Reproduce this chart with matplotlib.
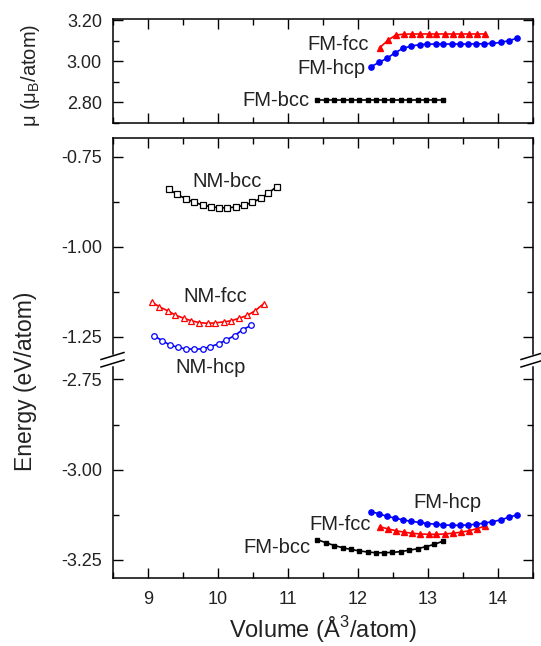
import matplotlib
matplotlib.use('Agg')
import matplotlib.pyplot as plt
from matplotlib.lines import Line2D

plt.rcParams['font.family'] = ['Liberation Sans', 'DejaVu Sans']
plt.rcParams['axes.unicode_minus'] = False
plt.rcParams['mathtext.fontset'] = 'custom'
plt.rcParams['mathtext.rm'] = 'Liberation Sans'

# ---- data ----
# ferromagnetic phases
v_fm_bcc = [11.42, 11.54, 11.66, 11.78, 11.90, 12.02, 12.14, 12.25, 12.37, 12.49,
            12.61, 12.73, 12.85, 12.97, 13.09, 13.21]
e_fm_bcc = [-3.194, -3.202, -3.210, -3.216, -3.221, -3.225, -3.228, -3.230, -3.230,
            -3.229, -3.227, -3.223, -3.219, -3.213, -3.207, -3.198]
m_fm_bcc = [2.811] * 16

v_fm_fcc = [12.31, 12.43, 12.54, 12.66, 12.77, 12.89, 13.01, 13.12, 13.24, 13.35,
            13.47, 13.59, 13.70, 13.82]
e_fm_fcc = [-3.158, -3.164, -3.169, -3.173, -3.176, -3.178, -3.179, -3.179, -3.178,
            -3.176, -3.173, -3.169, -3.163, -3.156]
m_fm_fcc = [3.065, 3.102, 3.127, 3.131, 3.132, 3.132, 3.132, 3.132, 3.132, 3.132,
            3.132, 3.132, 3.132, 3.132]

v_fm_hcp = [12.18, 12.30, 12.41, 12.53, 12.64, 12.76, 12.88, 12.99, 13.11, 13.22,
            13.34, 13.46, 13.57, 13.69, 13.80, 13.92, 14.04, 14.15, 14.27]
e_fm_hcp = [-3.116, -3.122, -3.129, -3.134, -3.139, -3.143, -3.146, -3.149, -3.151,
            -3.153, -3.154, -3.154, -3.153, -3.151, -3.148, -3.144, -3.139, -3.132, -3.125]
m_fm_hcp = [2.972, 2.993, 3.013, 3.040, 3.062, 3.073, 3.080, 3.082, 3.083, 3.083,
            3.083, 3.083, 3.083, 3.084, 3.084, 3.086, 3.091, 3.099, 3.111]

# non-magnetic phases
v_nm_bcc = [9.30, 9.42, 9.54, 9.66, 9.78, 9.90, 10.02, 10.13, 10.25, 10.37,
            10.49, 10.61, 10.72, 10.84]
e_nm_bcc = [-0.841, -0.855, -0.867, -0.877, -0.884, -0.889, -0.892, -0.892, -0.890,
            -0.885, -0.877, -0.866, -0.851, -0.833]

v_nm_fcc = [9.05, 9.16, 9.28, 9.39, 9.51, 9.62, 9.73, 9.85, 9.96, 10.08, 10.19,
            10.30, 10.42, 10.53, 10.65]
e_nm_fcc = [-1.153, -1.167, -1.178, -1.190, -1.199, -1.206, -1.211, -1.213, -1.212,
            -1.209, -1.206, -1.199, -1.191, -1.178, -1.159]

v_nm_hcp = [9.08, 9.20, 9.31, 9.43, 9.54, 9.66, 9.78, 9.89, 10.01, 10.12, 10.24,
            10.35, 10.47]
e_nm_hcp = [-1.247, -1.261, -1.273, -1.280, -1.284, -1.285, -1.284, -1.278, -1.270,
            -1.259, -1.247, -1.231, -1.219]

W, H = 541, 646
fig = plt.figure(figsize=(W / 100, H / 100), dpi=100)

def px_axes(top, bottom, left=113, right=533):
    return fig.add_axes([left / W, 1 - bottom / H, (right - left) / W, (bottom - top) / H])

ax_m = px_axes(19, 123)
ax_hi = px_axes(138, 360)
ax_lo = px_axes(360, 578)

txt = '#222222'
lab_fs = 14.5
for ax in (ax_m, ax_hi, ax_lo):
    ax.set_xlim(8.5, 14.5)
    ax.set_xticks([9, 10, 11, 12, 13, 14])
    ax.set_xticks([8.5, 9.5, 10.5, 11.5, 12.5, 13.5, 14.5], minor=True)
    ax.tick_params(which='both', direction='in', top=True, right=True,
                   width=1.0, labelsize=13, labelcolor=txt)
    ax.tick_params(which='major', length=7)
    ax.tick_params(which='minor', length=4.5)
    ax.tick_params(axis='y', pad=8)
    ax.tick_params(axis='x', pad=9)
    for s in ax.spines.values():
        s.set_linewidth(1.1)

# magnetic moment panel
ax_m.set_ylim(2.698, 3.205)
ax_m.set_yticks([2.80, 3.00, 3.20])
ax_m.set_yticks([2.70, 2.90, 3.10], minor=True)
ax_m.yaxis.set_major_formatter('{x:.2f}')
ax_m.tick_params(labelbottom=False)

ax_m.plot(v_fm_bcc, m_fm_bcc, 's-', color='black', lw=1.2, ms=3.4)
ax_m.plot(v_fm_fcc, m_fm_fcc, '^-', color='red', lw=1.2, ms=4.0)
ax_m.plot(v_fm_hcp, m_fm_hcp, 'o-', color='blue', lw=1.2, ms=3.8)

ax_m.text(12.15, 3.054, 'FM-fcc', ha='right', va='baseline', fontsize=lab_fs, color=txt)
ax_m.text(12.10, 2.937, 'FM-hcp', ha='right', va='baseline', fontsize=lab_fs, color=txt)
ax_m.text(11.31, 2.780, 'FM-bcc', ha='right', va='baseline', fontsize=lab_fs, color=txt)

# energy, upper part (NM)
ax_hi.set_ylim(-1.315, -0.698)
ax_hi.set_yticks([-1.25, -1.00, -0.75])
ax_hi.set_yticks([-1.125, -0.875], minor=True)
ax_hi.yaxis.set_major_formatter('{x:.2f}')
ax_hi.spines['bottom'].set_visible(False)
ax_hi.tick_params(which='both', bottom=False, labelbottom=False)

okw = dict(lw=1.2, mfc='white', mew=0.9)
ax_hi.plot(v_nm_bcc, e_nm_bcc, 's-', color='black', ms=3.8, **okw)
ax_hi.plot(v_nm_fcc, e_nm_fcc, '^-', color='red', ms=4.2, **okw)
ax_hi.plot(v_nm_hcp, e_nm_hcp, 'o-', color='blue', ms=4.0, **okw)

ax_hi.text(10.13, -0.835, 'NM-bcc', ha='center', va='baseline', fontsize=lab_fs, color=txt)
ax_hi.text(9.96, -1.153, 'NM-fcc', ha='center', va='baseline', fontsize=lab_fs, color=txt)

# energy, lower part (FM)
ax_lo.set_ylim(-3.30, -2.696)
ax_lo.set_yticks([-3.25, -3.00, -2.75])
ax_lo.set_yticks([-3.125, -2.875], minor=True)
ax_lo.yaxis.set_major_formatter('{x:.2f}')
ax_lo.spines['top'].set_visible(False)
ax_lo.tick_params(which='both', top=False)

ax_lo.plot(v_fm_bcc, e_fm_bcc, 's-', color='black', lw=1.2, ms=3.4)
ax_lo.plot(v_fm_fcc, e_fm_fcc, '^-', color='red', lw=1.2, ms=4.0)
ax_lo.plot(v_fm_hcp, e_fm_hcp, 'o-', color='blue', lw=1.2, ms=3.8)

ax_lo.text(9.90, -2.733, 'NM-hcp', ha='center', va='baseline', fontsize=lab_fs,
           color=txt, clip_on=False)
ax_lo.text(13.28, -3.106, 'FM-hcp', ha='center', va='baseline', fontsize=lab_fs, color=txt)
ax_lo.text(11.74, -3.166, 'FM-fcc', ha='center', va='baseline', fontsize=lab_fs, color=txt)
ax_lo.text(10.84, -3.230, 'FM-bcc', ha='center', va='baseline', fontsize=lab_fs, color=txt)

ax_lo.set_xlabel('Volume (Å$^3$/atom)', fontsize=17, color=txt, labelpad=5)

# axis break marks (white gap on spine + two slashes)
for xc in (113, 533):
    gap = Line2D([xc / W, xc / W], [1 - 356 / H, 1 - 364 / H],
                 transform=fig.transFigure, color='white', lw=2.5)
    fig.add_artist(gap)
    for yc in (356, 363.5):
        sl = Line2D([(xc - 12) / W, (xc + 11) / W], [1 - (yc + 3.5) / H, 1 - (yc - 3.5) / H],
                    transform=fig.transFigure, color='black', lw=1.1)
        fig.add_artist(sl)

fig.text(26 / W, 1 - 381 / H, 'Energy (eV/atom)', rotation=90, ha='center',
         va='center', fontsize=16.5, color=txt)
fig.text(30 / W, 1 - 75 / H, 'μ (μ$_\\mathregular{B}$/atom)', rotation=90, ha='center',
         va='center', fontsize=14.5, color=txt)

fig.savefig('out.png', dpi=100)
